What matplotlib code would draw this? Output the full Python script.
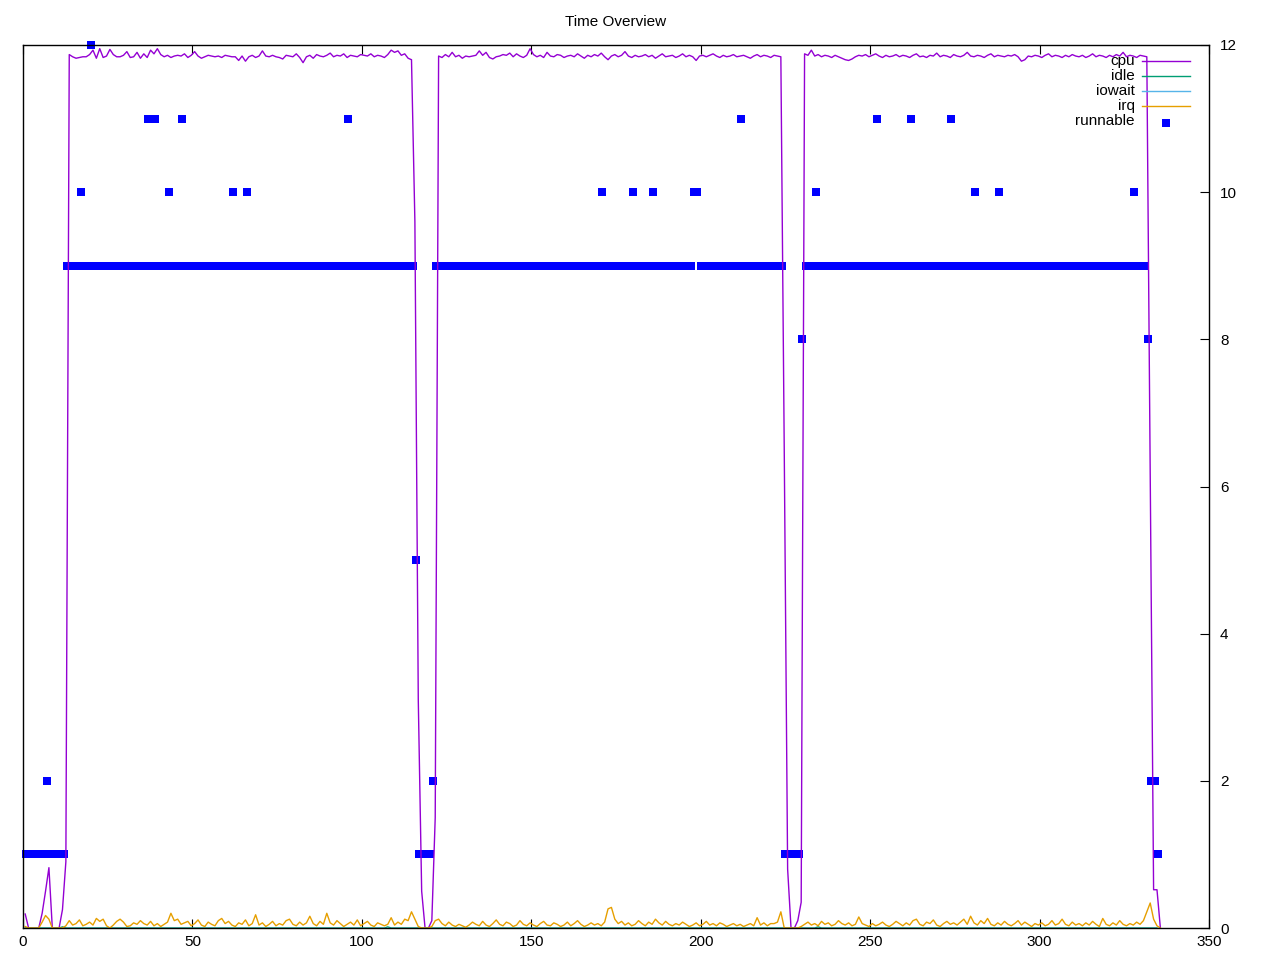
import numpy as np
import matplotlib
matplotlib.use('Agg')
import matplotlib.pyplot as plt

plt.rcParams['font.family'] = ['Liberation Sans', 'DejaVu Sans']

# cpu samples (one per second, first at t=0.65)
cpu = [
    0.19, 0.0, 0.0, 0.0, 0.0, 0.2, 0.5, 0.82, 0.0, 0.0, 0.0, 0.25, 0.9,
    # first busy stretch
    11.87, 11.84, 11.82, 11.83, 11.84, 11.84, 11.87, 11.93, 11.82, 11.95,
    11.83, 11.85, 11.94, 11.87, 11.84, 11.84, 11.86, 11.91, 11.83, 11.84,
    11.90, 11.82, 11.88, 11.83, 11.93, 11.88, 11.95, 11.87, 11.84, 11.86,
    11.83, 11.85, 11.86, 11.85, 11.88, 11.83, 11.86, 11.91, 11.85, 11.82,
    11.84, 11.86, 11.85, 11.84, 11.85, 11.83, 11.86, 11.85, 11.84, 11.84,
    11.79, 11.85, 11.78, 11.84, 11.86, 11.83, 11.85, 11.92, 11.85, 11.84,
    11.86, 11.84, 11.83, 11.81, 11.86, 11.85, 11.84, 11.88, 11.83, 11.76,
    11.84, 11.86, 11.82, 11.87, 11.85, 11.84, 11.86, 11.89, 11.84, 11.86,
    11.85, 11.88, 11.83, 11.86, 11.85, 11.84, 11.87, 11.86, 11.85, 11.88,
    11.84, 11.86, 11.85, 11.83, 11.87, 11.93, 11.90, 11.92, 11.86, 11.88,
    11.82, 11.80,
    9.6, 3.1, 0.5, 0.0, 0.0, 0.1, 1.5,
    # second busy stretch
    11.85, 11.83, 11.87, 11.84, 11.90, 11.84, 11.86, 11.82, 11.85, 11.84,
    11.85, 11.86, 11.92, 11.86, 11.90, 11.83, 11.81, 11.84, 11.85, 11.87,
    11.86, 11.89, 11.84, 11.88, 11.85, 11.83, 11.86, 11.95, 11.87, 11.84,
    11.86, 11.83, 11.90, 11.85, 11.84, 11.87, 11.86, 11.83, 11.85, 11.86,
    11.84, 11.88, 11.85, 11.82, 11.86, 11.84, 11.87, 11.85, 11.89, 11.84,
    11.80, 11.85, 11.87, 11.84, 11.86, 11.91, 11.85, 11.83, 11.86, 11.84,
    11.85, 11.87, 11.84, 11.86, 11.82, 11.85, 11.88, 11.84, 11.85, 11.86,
    11.83, 11.85, 11.88, 11.84, 11.86, 11.84, 11.79, 11.85, 11.86, 11.84,
    11.86, 11.88, 11.85, 11.83, 11.86, 11.84, 11.85, 11.87, 11.84, 11.85,
    11.86, 11.84, 11.82, 11.85, 11.87, 11.84, 11.86, 11.85, 11.83, 11.86,
    11.85, 11.84,
    6.5, 0.8, 0.0, 0.0, 0.1, 0.35,
    # third busy stretch
    11.88, 11.86, 11.93, 11.85, 11.87, 11.84, 11.86, 11.85, 11.83, 11.86,
    11.84, 11.82, 11.80, 11.79, 11.81, 11.84, 11.86, 11.85, 11.87, 11.84,
    11.86, 11.88, 11.85, 11.83, 11.86, 11.84, 11.85, 11.87, 11.84, 11.86,
    11.85, 11.83, 11.86, 11.88, 11.84, 11.85, 11.83, 11.86, 11.85, 11.89,
    11.84, 11.86, 11.85, 11.83, 11.87, 11.85, 11.84, 11.86, 11.90, 11.85,
    11.84, 11.86, 11.85, 11.83, 11.86, 11.88, 11.84, 11.86, 11.85, 11.84,
    11.86, 11.85, 11.87, 11.84, 11.78, 11.80, 11.85, 11.84, 11.86, 11.85,
    11.83, 11.86, 11.88, 11.84, 11.86, 11.85, 11.83, 11.86, 11.84, 11.87,
    11.85, 11.84, 11.86, 11.83, 11.85, 11.88, 11.84, 11.86, 11.85, 11.83,
    11.86, 11.84, 11.87, 11.85, 11.90, 11.84, 11.86, 11.85, 11.83, 11.86,
    11.85, 11.84,
    6.2, 0.52, 0.52, 0.0,
]

irq = [
    0.02, 0.0, 0.0, 0.0, 0.0, 0.08, 0.17, 0.12, 0.0, 0.0, 0.0, 0.0,
    0.03, 0.10, 0.04, 0.06, 0.11, 0.03, 0.05, 0.08, 0.04, 0.13, 0.09, 0.12,
    0.03, 0.00, 0.04, 0.09, 0.12, 0.08, 0.02, 0.03, 0.07, 0.05, 0.10, 0.06,
    0.04, 0.09, 0.03, 0.06, 0.02, 0.05, 0.08, 0.20, 0.10, 0.12, 0.05, 0.07,
    0.09, 0.03, 0.06, 0.11, 0.04, 0.02, 0.08, 0.05, 0.03, 0.10, 0.13, 0.06,
    0.09, 0.04, 0.02, 0.07, 0.05, 0.11, 0.03, 0.06, 0.18, 0.04, 0.07, 0.02,
    0.05, 0.09, 0.03, 0.06, 0.04, 0.10, 0.12, 0.05, 0.03, 0.08, 0.04, 0.07,
    0.16, 0.06, 0.03, 0.09, 0.05, 0.20, 0.07, 0.04, 0.10, 0.06, 0.02, 0.05,
    0.08, 0.04, 0.11, 0.03, 0.06, 0.09, 0.04, 0.02, 0.07, 0.05, 0.03, 0.05,
    0.14, 0.04, 0.08, 0.05, 0.12, 0.10, 0.22, 0.12, 0.02, 0.0, 0.0, 0.0,
    0.02, 0.10, 0.12, 0.06, 0.03, 0.08, 0.04, 0.02, 0.05, 0.03, 0.01, 0.04,
    0.08, 0.05, 0.03, 0.09, 0.04, 0.02, 0.06, 0.11, 0.05, 0.03, 0.08, 0.06,
    0.02, 0.04, 0.10, 0.05, 0.03, 0.07, 0.04, 0.02, 0.06, 0.09, 0.04, 0.03,
    0.07, 0.05, 0.02, 0.04, 0.08, 0.03, 0.06, 0.10, 0.05, 0.02, 0.04, 0.07,
    0.04, 0.06, 0.03, 0.08, 0.26, 0.28, 0.12, 0.06, 0.09, 0.04, 0.07, 0.03,
    0.05, 0.10, 0.06, 0.03, 0.08, 0.05, 0.12, 0.07, 0.04, 0.09, 0.05, 0.03,
    0.06, 0.04, 0.08, 0.05, 0.02, 0.04, 0.07, 0.03, 0.05, 0.09, 0.04, 0.06,
    0.03, 0.07, 0.05, 0.02, 0.04, 0.06, 0.03, 0.05, 0.02, 0.04, 0.06, 0.03,
    0.14, 0.04, 0.07, 0.03, 0.06, 0.06, 0.08, 0.22, 0.0, 0.0, 0.0, 0.0,
    0.0, 0.02, 0.05, 0.08, 0.04, 0.06, 0.03, 0.09, 0.05, 0.07, 0.03, 0.05,
    0.10, 0.06, 0.04, 0.07, 0.03, 0.05, 0.15, 0.06, 0.04, 0.02, 0.06, 0.03,
    0.05, 0.08, 0.04, 0.02, 0.05, 0.09, 0.06, 0.03, 0.07, 0.04, 0.10, 0.12,
    0.05, 0.03, 0.08, 0.06, 0.11, 0.04, 0.02, 0.06, 0.09, 0.05, 0.07, 0.04,
    0.08, 0.12, 0.05, 0.16, 0.07, 0.04, 0.10, 0.06, 0.13, 0.05, 0.03, 0.07,
    0.04, 0.09, 0.05, 0.03, 0.06, 0.10, 0.04, 0.08, 0.05, 0.02, 0.06, 0.04,
    0.07, 0.03, 0.05, 0.10, 0.04, 0.06, 0.12, 0.05, 0.03, 0.08, 0.04, 0.06,
    0.03, 0.07, 0.04, 0.09, 0.05, 0.02, 0.13, 0.05, 0.03, 0.07, 0.04, 0.10,
    0.05, 0.03, 0.06, 0.04, 0.08, 0.05, 0.10, 0.22, 0.34, 0.12, 0.03, 0.0,
]

# idle and iowait stay at (almost) zero
idle_t = [0.65, 10.65, 11.65, 12.65, 106.65, 107.65, 108.65, 233.65, 234.65, 235.65, 334.65]
idle = [0.0, 0.0, 0.015, 0.0, 0.0, 0.015, 0.0, 0.0, 0.015, 0.0, 0.0]
iowait_t = [0.65, 334.65]
iowait = [0.0, 0.0]

# runnable tasks, one per second starting at t=1
runnable = [
    1, 1, 1, 1, 1, 1, 2, 1, 1, 1, 1, 1, 9, 9, 9, 9, 10, 9, 9, 12,
    9, 9, 9, 9, 9, 9, 9, 9, 9, 9, 9, 9, 9, 9, 9, 9, 11, 9, 11, 9,
    9, 9, 10, 9, 9, 9, 11, 9, 9, 9, 9, 9, 9, 9, 9, 9, 9, 9, 9, 9,
    9, 10, 9, 9, 9, 10, 9, 9, 9, 9, 9, 9, 9, 9, 9, 9, 9, 9, 9, 9,
    9, 9, 9, 9, 9, 9, 9, 9, 9, 9, 9, 9, 9, 9, 9, 11, 9, 9, 9, 9,
    9, 9, 9, 9, 9, 9, 9, 9, 9, 9, 9, 9, 9, 9, 9, 5, 1, 1, 1, 1,
    2, 9, 9, 9, 9, 9, 9, 9, 9, 9, 9, 9, 9, 9, 9, 9, 9, 9, 9, 9,
    9, 9, 9, 9, 9, 9, 9, 9, 9, 9, 9, 9, 9, 9, 9, 9, 9, 9, 9, 9,
    9, 9, 9, 9, 9, 9, 9, 9, 9, 9, 10, 9, 9, 9, 9, 9, 9, 9, 9, 10,
    9, 9, 9, 9, 9, 10, 9, 9, 9, 9, 9, 9, 9, 9, 9, 9, 9, 10, 10, 9,
    9, 9, 9, 9, 9, 9, 9, 9, 9, 9, 9, 11, 9, 9, 9, 9, 9, 9, 9, 9,
    9, 9, 9, 9, 1, 1, 1, 1, 1, 8, 9, 9, 9, 10, 9, 9, 9, 9, 9, 9,
    9, 9, 9, 9, 9, 9, 9, 9, 9, 9, 9, 11, 9, 9, 9, 9, 9, 9, 9, 9,
    9, 11, 9, 9, 9, 9, 9, 9, 9, 9, 9, 9, 9, 11, 9, 9, 9, 9, 9, 9,
    10, 9, 9, 9, 9, 9, 9, 10, 9, 9, 9, 9, 9, 9, 9, 9, 9, 9, 9, 9,
    9, 9, 9, 9, 9, 9, 9, 9, 9, 9, 9, 9, 9, 9, 9, 9, 9, 9, 9, 9,
    9, 9, 9, 9, 9, 9, 9, 10, 9, 9, 9, 8, 2, 2, 1,
]

t_cpu = np.arange(len(cpu)) + 0.65
t_run = np.arange(1, len(runnable) + 1)

fig = plt.figure(figsize=(12.8, 9.6), dpi=100)
ax = fig.add_axes([23 / 1280, 32 / 960, 1186 / 1280, 883 / 960])

ax.plot(t_run, runnable, ls='none', marker='s', ms=5.6, mew=0, color='#0000ff',
        clip_on=False, zorder=2)
ax.plot(t_cpu, cpu, color='#9400d3', lw=1.0, zorder=3)
ax.plot(idle_t, idle, color='#009e73', lw=1.0, zorder=3)
ax.plot(iowait_t, iowait, color='#56b4e9', lw=1.0, zorder=3)
ax.plot(t_cpu, irq, color='#e69f00', lw=1.0, zorder=3)

ax.set_xlim(0, 350)
ax.set_ylim(0, 12)
ax.set_xticks(range(0, 351, 50))
ax.set_yticks(range(0, 13, 2))
ax.tick_params(axis='x', direction='in', top=True, bottom=True, length=6.5,
               width=0.8, labelsize=11, pad=5)
ax.tick_params(axis='y', direction='in', left=False, right=True, labelleft=False,
               labelright=True, length=6.5, width=0.8, labelsize=11, pad=8)
for s in ax.spines.values():
    s.set_linewidth(1.0)
    s.set_zorder(5)

fig.text(616 / 1280, 1 - 22 / 960, 'Time Overview', ha='center', va='center', fontsize=11)

# key, top right, text first then sample
names = ['cpu', 'idle', 'iowait', 'irq']
colors = ['#9400d3', '#009e73', '#56b4e9', '#e69f00']
rows = [0.9819, 0.9649, 0.9479, 0.9309, 0.9139]
for name, c, y in zip(names, colors, rows):
    ax.text(0.9376, y, name, transform=ax.transAxes, ha='right', va='center', fontsize=11)
    ax.plot([0.9435, 0.9840], [y, y], color=c, lw=1.0, transform=ax.transAxes,
            clip_on=False, zorder=4)
ax.text(0.9376, rows[4], 'runnable', transform=ax.transAxes, ha='right', va='center', fontsize=11)
ax.plot([0.9637], [rows[4] - 0.002], ls='none', marker='s', ms=5.6, mew=0, color='#0000ff',
        transform=ax.transAxes, clip_on=False, zorder=4)

fig.savefig('out.png', dpi=100)
